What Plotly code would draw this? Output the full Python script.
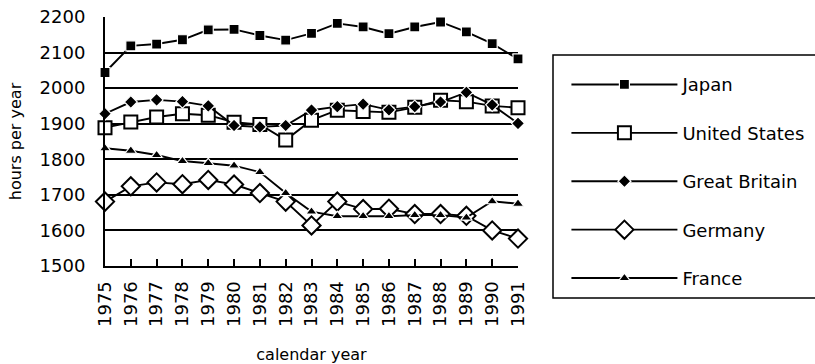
import plotly.graph_objects as go

years = list(range(1975, 1992))
japan = [2044, 2119, 2124, 2136, 2164, 2165, 2148, 2135, 2154, 2182, 2172, 2153, 2172, 2186, 2158, 2125, 2082]
united_states = [1889, 1905, 1919, 1928, 1924, 1904, 1898, 1854, 1910, 1938, 1934, 1932, 1946, 1966, 1962, 1950, 1945]
great_britain = [1928, 1961, 1967, 1962, 1950, 1895, 1891, 1895, 1938, 1948, 1955, 1939, 1948, 1961, 1988, 1953, 1901]
germany = [1681, 1724, 1735, 1730, 1742, 1729, 1705, 1681, 1614, 1681, 1660, 1661, 1646, 1646, 1641, 1600, 1577]
france = [1831, 1824, 1812, 1795, 1789, 1782, 1764, 1705, 1653, 1640, 1640, 1640, 1643, 1643, 1636, 1682, 1675]
y_ticks = [1500, 1600, 1700, 1800, 1900, 2000, 2100, 2200]

series = [
    ("Japan", japan, dict(symbol="square", size=10, color="black", line=dict(color="white", width=1.2))),
    ("United States", united_states, dict(symbol="square", size=13, color="white", line=dict(color="black", width=2))),
    ("Great Britain", great_britain, dict(symbol="diamond", size=10, color="black", line=dict(color="white", width=1.2))),
    ("Germany", germany, dict(symbol="diamond", size=14, color="white", line=dict(color="black", width=2))),
    ("France", france, dict(symbol="triangle-up", size=10, color="black", line=dict(color="white", width=1.2))),
]

FONT = "DejaVu Sans"
fig = go.Figure()
for i, (name, vals, mk) in enumerate(series):
    fig.add_trace(go.Scatter(
        x=years, y=vals, name=name, mode="lines+markers",
        line=dict(color="black", width=1.9), marker=mk, cliponaxis=False,
        legendgroup=str(i),
    ))

fig.update_layout(
    width=815, height=364,
    margin=dict(l=105, r=297, t=17, b=98, autoexpand=False),
    paper_bgcolor="white", plot_bgcolor="white",
    font=dict(family=FONT, color="black", size=16),
    showlegend=True,
    legend=dict(
        xref="container", yref="container", x=0.695, y=0.818, xanchor="left", yanchor="top",
        font=dict(family=FONT, size=18, color="black"), maxheight=400,
        tracegroupgap=22, itemwidth=106, borderwidth=0, bgcolor="rgba(0,0,0,0)",
    ),
    shapes=[dict(type="rect", xref="paper", yref="paper", x0=(553-105)/413, x1=(830-105)/413,
                 y0=(266-298)/249, y1=(266-55)/249, line=dict(color="black", width=1.5))],
)
fig.update_xaxes(
    range=[1975, 1991], tickmode="array", tickvals=years, ticktext=[str(y) for y in years],
    tickangle=-90, tickfont=dict(family=FONT, size=18), showgrid=False, zeroline=False,
    showline=True, linecolor="black", linewidth=2, ticks="inside", ticklen=7, tickwidth=1.5,
    tickcolor="black", ticklabelstandoff=6, automargin=False,
    title=dict(text="calendar year", font=dict(family=FONT, size=16), standoff=25),
)
fig.update_yaxes(
    range=[1500, 2200], tickvals=y_ticks, tickfont=dict(family=FONT, size=18),
    showgrid=True, gridcolor="black", gridwidth=1.7, zeroline=False,
    showline=True, linecolor="black", linewidth=2, ticks="", ticklabelstandoff=14, automargin=False,
    title=dict(text="hours per year", font=dict(family=FONT, size=16), standoff=14),
)
fig.write_html("out.html", config={"displayModeBar": False},
               post_script="document.body.style.margin='0';document.body.style.overflow='hidden';")
